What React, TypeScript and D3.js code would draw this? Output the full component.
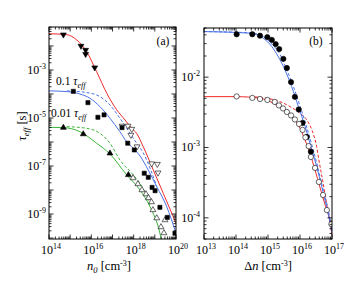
import React from "react";
import * as d3 from "d3";

// ---------- Panel (a) data (log10 values) ----------
const redA_x = [14.0, 14.84, 15.31, 15.78, 16.25, 16.73, 17.2, 17.59, 17.91, 18.14, 18.45, 18.93, 19.4, 20.0];
const redA_y = [-1.49, -1.53, -1.75, -2.24, -3.07, -3.97, -4.66, -5.08, -5.43, -5.64, -6.19, -7.17, -8.14, -9.38];

const blueA_x = [14.0, 14.84, 15.46, 15.94, 16.41, 16.88, 17.35, 17.67, 17.98, 18.3, 18.69, 19.09, 19.56, 20.0];
const blueA_y = [-3.87, -3.9, -4.0, -4.18, -4.53, -5.01, -5.57, -5.99, -6.26, -6.58, -7.17, -7.86, -8.69, -9.8];
const blueDashA_x = [14.84, 15.78, 16.41, 16.88, 17.35, 17.83, 18.14, 18.45, 18.8, 19.09];
const blueDashA_y = [-3.87, -3.94, -4.11, -4.46, -5.01, -5.64, -6.05, -6.45, -7.15, -7.86];

const greenA_x = [14.0, 14.68, 15.46, 16.25, 16.88, 17.67, 18.3, 18.77, 19.24, 19.3];
const greenA_y = [-5.39, -5.4, -5.57, -6.05, -6.5, -7.37, -8.0, -8.69, -9.8, -10.04];
const greenDashA_x = [14.84, 15.78, 16.41, 16.88, 17.35, 17.98, 18.45, 18.77];
const greenDashA_y = [-5.36, -5.43, -5.64, -6.05, -6.75, -7.37, -7.95, -8.62];

const invTriA_x = [14.68, 15.51, 15.73, 15.73, 16.16];
const invTriA_y = [-1.53, -2.0, -2.17, -2.34, -2.9];

const squareA_x = [15.15, 15.84, 16.31, 16.6, 17.45, 17.72, 18.03, 18.5, 18.69, 18.87, 19.01, 19.24, 19.59, 19.95];
const squareA_y = [-3.89, -4.36, -4.97, -4.87, -5.4, -6.05, -6.33, -7.3, -7.47, -7.89, -8.03, -8.72, -9.14, -9.8];

const triA_x = [14.68, 15.62, 16.88, 17.75];
const triA_y = [-5.4, -5.67, -6.47, -7.37];

const openInvTriA_x = [17.45, 17.73, 17.91, 17.87, 18.16, 18.85, 19.12, 19.15];
const openInvTriA_y = [-5.33, -5.33, -5.46, -5.71, -6.19, -6.9, -6.92, -7.28];

const openTriA_x = [17.97, 18.2, 18.39, 18.58, 18.7, 18.84, 18.91, 19.09, 19.48, 19.29, 19.43];
const openTriA_y = [-7.5, -7.75, -8.0, -8.17, -8.33, -8.5, -8.83, -9.17, -9.25, -9.54, -9.79];

// ---------- Panel (b) data ----------
const blueB_x = [13.0, 14.44, 14.85, 15.12, 15.32, 15.53, 15.74, 15.95, 16.16, 16.37, 16.52, 16.68, 16.83, 17.0];
const blueB_y = [-1.352, -1.375, -1.446, -1.566, -1.708, -1.897, -2.135, -2.42, -2.7, -3.035, -3.27, -3.557, -3.84, -4.2];
const blueDashB_x = [13.0, 14.44, 14.85, 15.12, 15.38, 15.59, 15.8, 16.0, 16.19, 16.38, 16.55, 16.7, 16.86, 17.0];
const blueDashB_y = [-1.352, -1.37, -1.42, -1.53, -1.68, -1.9, -2.14, -2.41, -2.68, -2.98, -3.27, -3.557, -3.84, -4.16];

const redB_x = [13.0, 14.02, 14.75, 15.17, 15.48, 15.79, 16.0, 16.1, 16.31, 16.47, 16.62, 16.78, 16.94, 17.0];
const redB_y = [-2.277, -2.277, -2.3, -2.371, -2.466, -2.584, -2.726, -2.83, -3.08, -3.32, -3.56, -3.81, -4.06, -4.24];
const redDashB_x = [14.44, 14.96, 15.375, 15.69, 16.0, 16.21, 16.37, 16.52, 16.59, 16.72, 16.84, 16.94, 17.0];
const redDashB_y = [-2.277, -2.3, -2.348, -2.419, -2.513, -2.608, -2.75, -2.988, -3.177, -3.5, -3.82, -4.06, -4.24];

const fillCircB_x = [14.02, 14.51, 14.75, 14.98, 15.12, 15.24, 15.35, 15.48, 15.59, 15.72, 15.84, 15.96, 16.08, 16.21, 16.34];
const fillCircB_y = [-1.39, -1.39, -1.41, -1.43, -1.47, -1.53, -1.6, -1.74, -1.87, -2.07, -2.28, -2.46, -2.65, -2.85, -3.06];

const openCircB_x = [14.02, 14.51, 14.75, 14.98, 15.21, 15.34, 15.47, 15.59, 15.72, 15.84, 15.97, 16.08, 16.17, 16.27, 16.34, 16.47, 16.59, 16.72, 16.84, 16.98];
const openCircB_y = [-2.274, -2.295, -2.31, -2.324, -2.352, -2.402, -2.445, -2.495, -2.544, -2.601, -2.665, -2.75, -2.857, -2.98, -3.135, -3.291, -3.49, -3.675, -3.89, -4.09];

// tick labels
const xTicksA = [14, 16, 18, 20];
const yTicksA = [-3, -5, -7, -9];
const xTicksB = [13, 14, 15, 16, 17];
const yTicksB = [-2, -3, -4];

const RED = "#ee2b2b";
const BLUE = "#4a72e8";
const GREEN = "#3db53d";
const FONT = "'Liberation Serif', serif";

const pts = (xs: number[], ys: number[]) => xs.map((x, i) => [Math.pow(10, x), Math.pow(10, ys[i])] as [number, number]);

function logTicks(domain: [number, number]) {
  const lo = Math.floor(Math.log10(domain[0]));
  const hi = Math.ceil(Math.log10(domain[1]));
  const major: number[] = [];
  const minor: number[] = [];
  for (let d = lo; d <= hi; d++) {
    for (let k = 1; k < 10; k++) {
      const v = k * Math.pow(10, d);
      if (v < domain[0] * 0.999 || v > domain[1] * 1.001) continue;
      if (k === 1) major.push(v);
      else minor.push(v);
    }
  }
  return { major, minor };
}

function Frame({ x, y }: { x: d3.ScaleLogarithmic<number, number>; y: d3.ScaleLogarithmic<number, number> }) {
  const [x0, x1] = x.range();
  const [y0, y1] = y.range();
  const xt = logTicks(x.domain() as [number, number]);
  const yt = logTicks(y.domain() as [number, number]);
  const maj = 4.5, mn = 2.5;
  const lines: any[] = [];
  xt.major.forEach((v, i) => {
    const px = x(v);
    lines.push(<line key={"xm" + i} x1={px} x2={px} y1={y0} y2={y0 - maj} />);
    lines.push(<line key={"xmt" + i} x1={px} x2={px} y1={y1} y2={y1 + maj} />);
  });
  xt.minor.forEach((v, i) => {
    const px = x(v);
    lines.push(<line key={"xn" + i} x1={px} x2={px} y1={y0} y2={y0 - mn} />);
    lines.push(<line key={"xnt" + i} x1={px} x2={px} y1={y1} y2={y1 + mn} />);
  });
  yt.major.forEach((v, i) => {
    const py = y(v);
    lines.push(<line key={"ym" + i} x1={x0} x2={x0 + maj} y1={py} y2={py} />);
    lines.push(<line key={"ymr" + i} x1={x1} x2={x1 - maj} y1={py} y2={py} />);
  });
  yt.minor.forEach((v, i) => {
    const py = y(v);
    lines.push(<line key={"yn" + i} x1={x0} x2={x0 + mn} y1={py} y2={py} />);
    lines.push(<line key={"ynr" + i} x1={x1} x2={x1 - mn} y1={py} y2={py} />);
  });
  return (
    <g stroke="#000" strokeWidth={0.8}>
      {lines}
      <rect x={x0} y={y1} width={x1 - x0} height={y0 - y1} fill="none" strokeWidth={1} />
    </g>
  );
}

function Pow({ x, y, exp, anchor }: { x: number; y: number; exp: number; anchor: string }) {
  return (
    <text x={x} y={y} textAnchor={anchor} style={{ fontFamily: FONT, fontSize: "12px" }} fill="#000">
      10<tspan dy={-5} style={{ fontSize: "8px" }}>{exp}</tspan>
    </text>
  );
}

export default function App() {
  const xA = d3.scaleLog().domain([1e14, 1e20]).range([49, 176]);
  const yA = d3.scaleLog().domain([Math.pow(10, -10.04), Math.pow(10, -1.21)]).range([239, 27]);
  const xB = d3.scaleLog().domain([1e13, 1e17]).range([204, 332]);
  const yB = d3.scaleLog().domain([5e-5, 5e-2]).range([239, 28]);

  const lineA = d3.line<[number, number]>().x((d) => xA(d[0])).y((d) => yA(d[1])).curve(d3.curveMonotoneX);
  const lineB = d3.line<[number, number]>().x((d) => xB(d[0])).y((d) => yB(d[1])).curve(d3.curveMonotoneX);

  const triUp = d3.symbol().type(d3.symbolTriangle).size(15)() as string;
  const sq = d3.symbol().type(d3.symbolSquare).size(17)() as string;
  const circ = d3.symbol().type(d3.symbolCircle).size(22)() as string;
  const triUpOpen = d3.symbol().type(d3.symbolTriangle).size(15)() as string;

  const markers = (
    xs: number[], ys: number[], path: string, sx: any, sy: any, fill: string, rot: number, key: string
  ) =>
    pts(xs, ys).map((p, i) => (
      <path
        key={key + i}
        d={path}
        transform={`translate(${sx(p[0])},${sy(p[1])}) rotate(${rot})`}
        fill={fill}
        stroke="#000"
        strokeWidth={0.6}
      />
    ));

  const ts = (size: number, italic = false) => ({ fontFamily: FONT, fontSize: size + "px", fontStyle: italic ? "italic" : "normal" });

  return (
    <svg width={363} height={281} style={{ position: "absolute", left: 0, top: 0, background: "#fff", fontFamily: FONT }}>
      <defs>
        <clipPath id="clipA"><rect x={49} y={27} width={127} height={212} /></clipPath>
        <clipPath id="clipB"><rect x={204} y={28} width={128} height={211} /></clipPath>
      </defs>
      <rect x={0} y={0} width={363} height={281} fill="#fff" />

      {/* Panel (a) */}
      <g clipPath="url(#clipA)" fill="none" strokeWidth={1}>
        <path d={lineA(pts(redA_x, redA_y)) || ""} stroke={RED} />
        <path d={lineA(pts(blueA_x, blueA_y)) || ""} stroke={BLUE} />
        <path d={lineA(pts(blueDashA_x, blueDashA_y)) || ""} stroke={BLUE} strokeDasharray="3,2" />
        <path d={lineA(pts(greenA_x, greenA_y)) || ""} stroke={GREEN} />
        <path d={lineA(pts(greenDashA_x, greenDashA_y)) || ""} stroke={GREEN} strokeDasharray="3,2" />
      </g>
      <g clipPath="url(#clipA)">
        {markers(openInvTriA_x, openInvTriA_y, triUpOpen, xA, yA, "#fff", 180, "oit")}
        {markers(openTriA_x, openTriA_y, triUpOpen, xA, yA, "#fff", 0, "ot")}
        {markers(invTriA_x, invTriA_y, triUp, xA, yA, "#000", 180, "it")}
        {markers(squareA_x, squareA_y, sq, xA, yA, "#000", 0, "sq")}
        {markers(triA_x, triA_y, triUp, xA, yA, "#000", 0, "tr")}
      </g>
      <Frame x={xA} y={yA} />
      {xTicksA.map((e) => (
        <Pow key={"xa" + e} x={xA(Math.pow(10, e)) + 2} y={254} exp={e} anchor="middle" />
      ))}
      {yTicksA.map((e) => (
        <Pow key={"ya" + e} x={46} y={yA(Math.pow(10, e)) + 4} exp={e} anchor="end" />
      ))}
      <text x={163} y={45} textAnchor="middle" style={ts(11.5)}>(a)</text>
      <text x={56} y={85} style={ts(11.5)}>
        0.1 <tspan style={ts(11.5, true)}>τ</tspan><tspan style={ts(8, true)} dy={3}>eff</tspan>
      </text>
      <text x={51} y={117} style={ts(11.5)}>
        0.01 <tspan style={ts(11.5, true)}>τ</tspan><tspan style={ts(8, true)} dy={3}>eff</tspan>
      </text>
      <text transform="translate(26,126) rotate(-90)" textAnchor="middle" style={ts(12.5)}>
        <tspan style={ts(12.5, true)}>τ</tspan><tspan style={ts(8.5, true)} dy={3}>eff</tspan>
        <tspan dy={-3}>{"  [s]"}</tspan>
      </text>
      <text x={109} y={270} textAnchor="middle" style={ts(12.5)}>
        <tspan style={ts(12.5, true)}>n</tspan><tspan style={ts(8.5, true)} dy={3}>0</tspan>
        <tspan dy={-3}>{"  [cm"}</tspan><tspan style={ts(8)} dy={-4}>-3</tspan><tspan dy={4}>]</tspan>
      </text>

      {/* Panel (b) */}
      <g clipPath="url(#clipB)" fill="none" strokeWidth={1}>
        <path d={lineB(pts(redB_x, redB_y)) || ""} stroke={RED} />
        <path d={lineB(pts(redDashB_x, redDashB_y)) || ""} stroke={RED} strokeDasharray="3,2" />
        <path d={lineB(pts(blueB_x, blueB_y)) || ""} stroke={BLUE} />
        <path d={lineB(pts(blueDashB_x, blueDashB_y)) || ""} stroke={BLUE} strokeDasharray="3,2" />
      </g>
      <g clipPath="url(#clipB)">
        {markers(fillCircB_x, fillCircB_y, circ, xB, yB, "#000", 0, "fc")}
        {markers(openCircB_x, openCircB_y, circ, xB, yB, "#fff", 0, "oc")}
      </g>
      <Frame x={xB} y={yB} />
      {xTicksB.map((e) => (
        <Pow key={"xb" + e} x={xB(Math.pow(10, e)) + 2} y={254} exp={e} anchor="middle" />
      ))}
      {yTicksB.map((e) => (
        <Pow key={"yb" + e} x={200} y={yB(Math.pow(10, e)) + 4} exp={e} anchor="end" />
      ))}
      <text x={316} y={45} textAnchor="middle" style={ts(11.5)}>(b)</text>
      <text x={268} y={270} textAnchor="middle" style={ts(12.5)}>
        Δ<tspan style={ts(12.5, true)}>n</tspan>
        <tspan>{"  [cm"}</tspan><tspan style={ts(8)} dy={-4}>-3</tspan><tspan dy={4}>]</tspan>
      </text>
    </svg>
  );
}
